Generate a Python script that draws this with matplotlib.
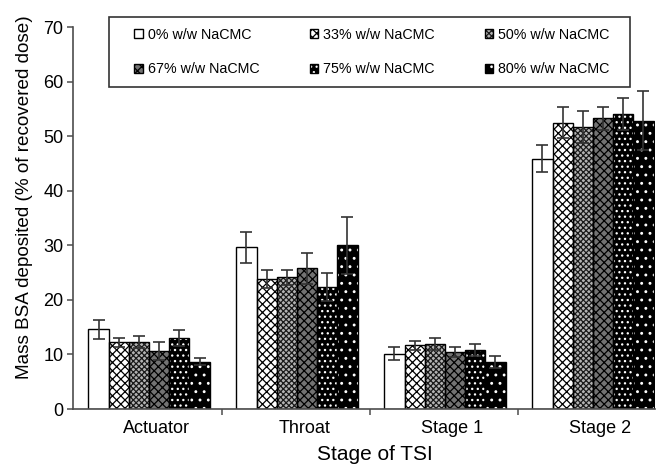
import matplotlib
matplotlib.use("Agg")
import matplotlib.pyplot as plt
import numpy as np
from matplotlib.patches import Patch, Rectangle
from matplotlib.transforms import ScaledTranslation

plt.rcParams['font.family'] = ['Liberation Sans', 'DejaVu Sans']
plt.rcParams['hatch.linewidth'] = 0.9

# data
stages = ['Actuator', 'Throat', 'Stage 1', 'Stage 2']
labels = ['0% w/w NaCMC', '33% w/w NaCMC', '50% w/w NaCMC',
          '67% w/w NaCMC', '75% w/w NaCMC', '80% w/w NaCMC']

nacmc_0 = [14.6, 29.6, 10.1, 45.9]
nacmc_33 = [12.2, 23.8, 11.7, 52.5]
nacmc_50 = [12.2, 24.1, 11.9, 51.7]
nacmc_67 = [10.6, 25.8, 10.5, 53.3]
nacmc_75 = [13.0, 22.4, 10.8, 54.1]
nacmc_80 = [8.7, 30.0, 8.7, 52.8]

err_0 = [1.7, 2.8, 1.2, 2.4]
err_33 = [0.9, 1.7, 0.8, 2.9]
err_50 = [1.1, 1.4, 1.1, 3.0]
err_67 = [1.6, 2.8, 0.9, 2.1]
err_75 = [1.4, 2.6, 1.1, 2.9]
err_80 = [0.6, 5.2, 1.1, 5.4]

values = [nacmc_0, nacmc_33, nacmc_50, nacmc_67, nacmc_75, nacmc_80]
errors = [err_0, err_33, err_50, err_67, err_75, err_80]

# fill colour, hatch, hatch colour for each series
styles = [
    ('white', None, 'black'),
    ('white', 'xxxx', 'black'),
    ('0.7', 'xxxxxx', '0.1'),
    ('0.45', 'xxxx', 'black'),
    ('black', '...', 'white'),
    ('black', '..', 'white'),
]

fig = plt.figure(figsize=(6.57, 4.65), dpi=100)
ax = fig.add_axes([0.1116, 0.1204, 0.8854, 0.8215])

x = np.arange(len(stages))
w = 0.1365
start = -0.405

handles = []
for i, (vals, errs) in enumerate(zip(values, errors)):
    face, hatch, hcol = styles[i]
    pos = x + start + i * w + w / 2
    ax.bar(pos, vals, width=w, color=face, hatch=hatch, edgecolor=hcol,
           linewidth=0, zorder=2)
    ax.bar(pos, vals, width=w, fill=False, edgecolor='black',
           linewidth=1.0, zorder=2.5)
    ax.errorbar(pos, vals, yerr=errs, fmt='none', ecolor='0.2',
                elinewidth=1.2, capsize=4, capthick=1.2, zorder=3)
    h1 = Patch(facecolor=face, hatch=hatch, edgecolor=hcol, linewidth=0)
    h2 = Patch(fill=False, edgecolor='black', linewidth=1.0)
    handles.append((h1, h2))

ax.set_xlim(-0.507, 3.424)
ax.set_ylim(0, 70)
ax.set_yticks(range(0, 71, 10))
ax.set_xticks(x)
ax.set_xticklabels(stages)
ax.set_xticks([0.5, 1.5, 2.5], minor=True)

for side in ['top', 'right']:
    ax.spines[side].set_visible(False)
for side in ['left', 'bottom']:
    ax.spines[side].set_color('0.3')
    ax.spines[side].set_linewidth(1.2)

ax.tick_params(axis='y', direction='out', length=4, width=1.1, color='0.3',
               labelsize=13, pad=3)
ax.tick_params(axis='x', which='major', length=0, labelsize=13, pad=8)
ax.tick_params(axis='x', which='minor', direction='out', length=4,
               width=1.1, color='0.3')

off = ScaledTranslation(8 / 100, 0, fig.dpi_scale_trans)
for lab in ax.get_xticklabels():
    lab.set_transform(lab.get_transform() + off)

ax.set_ylabel('Mass BSA deposited (% of recovered dose)', fontsize=13.6)
ax.yaxis.set_label_coords(-0.07, 0.555)
ax.set_xlabel('Stage of TSI', fontsize=15)
ax.xaxis.set_label_coords(0.519, -0.095)

# legend filled row by row, with a plain rectangular frame
order = [0, 3, 1, 4, 2, 5]
fig.patches.append(Rectangle((109 / 657, 1 - 87 / 465), 521 / 657, 70 / 465,
                             transform=fig.transFigure, fill=False,
                             edgecolor='0.2', linewidth=1.2, zorder=5))
leg = fig.legend([handles[k] for k in order], [labels[k] for k in order],
                 ncol=3, loc='center',
                 bbox_to_anchor=(372 / 657, 1 - 52 / 465), frameon=False,
                 fontsize=10.3, handlelength=0.6, handleheight=0.6,
                 handletextpad=0.35, columnspacing=3.5, labelspacing=1.45,
                 borderpad=0)

fig.savefig('out.png', dpi=100)
